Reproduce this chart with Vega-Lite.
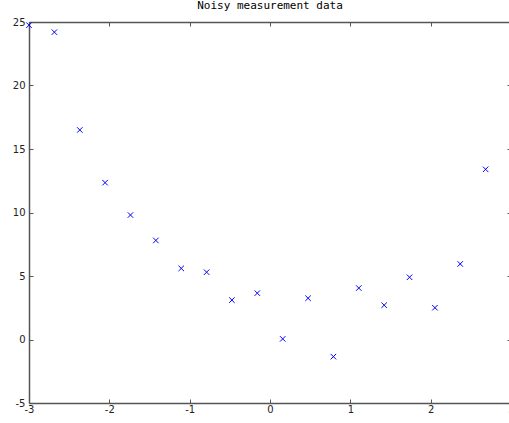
{
  "$schema": "https://vega.github.io/schema/vega-lite/v6.json",
  "width": 482,
  "height": 381,
  "autosize": {"type": "none"},
  "padding": {"left": 29, "top": 22, "right": 0, "bottom": 20},
  "background": "white",
  "title": {"text": "Noisy measurement data", "font": "DejaVu Sans Mono", "fontSize": 11, "fontWeight": "normal", "color": "#000000", "offset": 6, "anchor": "middle"},
  "config": {
    "view": {"stroke": null},
    "axis": {"grid": false, "domainColor": "#555555", "tickColor": "#555555", "labelColor": "#222222", "labelFont": "DejaVu Sans", "labelFontSize": 10, "tickSize": -4, "domainWidth": 1.5, "tickWidth": 1, "title": null}
  },
  "data": {"values": [
    {"x": -3.0, "y": 24.75},
    {"x": -2.684, "y": 24.2},
    {"x": -2.368, "y": 16.5},
    {"x": -2.053, "y": 12.35},
    {"x": -1.737, "y": 9.8},
    {"x": -1.421, "y": 7.8},
    {"x": -1.105, "y": 5.6},
    {"x": -0.789, "y": 5.3},
    {"x": -0.474, "y": 3.1},
    {"x": -0.158, "y": 3.65},
    {"x": 0.158, "y": 0.05},
    {"x": 0.474, "y": 3.25},
    {"x": 0.789, "y": -1.35},
    {"x": 1.105, "y": 4.05},
    {"x": 1.421, "y": 2.7},
    {"x": 1.737, "y": 4.9},
    {"x": 2.053, "y": 2.5},
    {"x": 2.368, "y": 5.95},
    {"x": 2.684, "y": 13.4}
  ]},
  "layer": [
    {
      "mark": {"type": "point", "shape": "M-1,-1L1,1M-1,1L1,-1", "filled": false, "color": "#0000ff", "strokeWidth": 1, "size": 30, "opacity": 1},
      "encoding": {
        "x": {"field": "x", "type": "quantitative", "scale": {"domain": [-3, 3], "nice": false, "zero": false}, "axis": {"orient": "bottom", "values": [-3, -2, -1, 0, 1, 2, 3], "labelPadding": 5, "labelFlush": false, "labelExpr": "'' + datum.value"}},
        "y": {"field": "y", "type": "quantitative", "scale": {"domain": [-5, 25], "nice": false, "zero": false}, "axis": {"orient": "left", "values": [-5, 0, 5, 10, 15, 20, 25], "labelPadding": 8, "labelExpr": "'' + datum.value"}}
      }
    },
    {
      "mark": {"type": "point", "opacity": 0},
      "encoding": {
        "x": {"field": "x", "type": "quantitative", "scale": {"domain": [-3, 3], "nice": false, "zero": false}, "axis": {"orient": "top", "values": [-3, -2, -1, 0, 1, 2, 3], "labels": false}},
        "y": {"field": "y", "type": "quantitative", "scale": {"domain": [-5, 25], "nice": false, "zero": false}, "axis": {"orient": "right", "values": [-5, 0, 5, 10, 15, 20, 25], "labels": false}}
      }
    }
  ],
  "resolve": {"axis": {"x": "independent", "y": "independent"}}
}
